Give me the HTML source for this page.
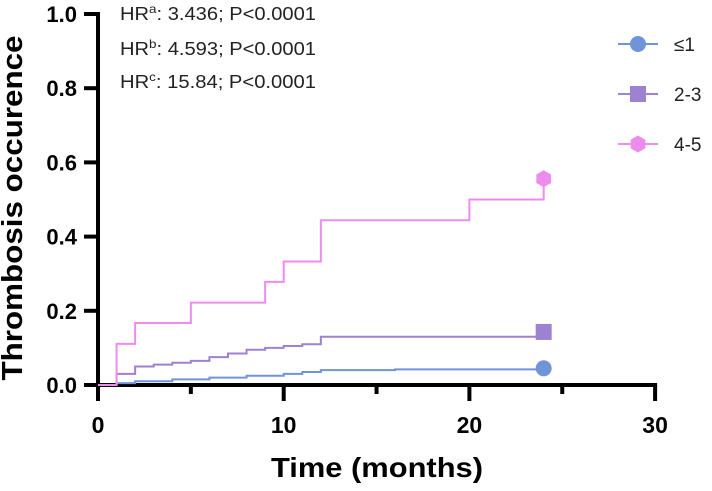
<!DOCTYPE html>
<html><head><meta charset="utf-8"><style>
body{margin:0;background:#fff;}
svg{display:block;font-family:"Liberation Sans",Arial,sans-serif;}
</style></head><body>
<svg id="chart" width="712" height="491">
<g id="axes"></g><g id="series"></g><g id="legend"></g>
<g font-size="18" fill="#222">
<text x="120" y="20" textLength="196" lengthAdjust="spacingAndGlyphs">HR<tspan dy="-7" font-size="12">a</tspan><tspan dy="7">: 3.436; P&lt;0.0001</tspan></text>
<text x="120" y="55" textLength="196" lengthAdjust="spacingAndGlyphs">HR<tspan dy="-7" font-size="12">b</tspan><tspan dy="7">: 4.593; P&lt;0.0001</tspan></text>
<text x="120" y="88" textLength="196" lengthAdjust="spacingAndGlyphs">HR<tspan dy="-7" font-size="12">c</tspan><tspan dy="7">: 15.84; P&lt;0.0001</tspan></text>
</g>
<text x="377" y="477" text-anchor="middle" font-size="28" font-weight="bold" textLength="212" lengthAdjust="spacingAndGlyphs">Time (months)</text>
<text transform="translate(22,208) rotate(-90)" text-anchor="middle" font-size="29" font-weight="bold" textLength="345" lengthAdjust="spacingAndGlyphs">Thrombosis occurence</text>
</svg>
<script>
const xTicks=[0,10,20,30];
const yTicks=[0,0.2,0.4,0.6,0.8,1.0];
const yTickLabels=["0.0","0.2","0.4","0.6","0.8","1.0"];
const seriesNames=["≤1","2-3","4-5"];
const timesLow=[0,1,2,4,6,8,10,11,12,16,24];
const valsLow=[0,0.005,0.01,0.015,0.02,0.025,0.03,0.035,0.04,0.042,0.042];
const timesMid=[0,1,2,3,4,5,6,7,8,9,10,11,12,24];
const valsMid=[0,0.03,0.05,0.055,0.06,0.065,0.075,0.085,0.095,0.1,0.105,0.11,0.13,0.13];
const timesHigh=[0,1,2,5,9,10,12,20,24];
const valsHigh=[0,0.111,0.167,0.222,0.278,0.333,0.444,0.5,0.556];
const markerVals=[0.045,0.143,0.556];
const markerTime=24;
const colors=["#6f95d8","#9d82d2","#ee8cee"];
const NS="http://www.w3.org/2000/svg";
const X=t=>98+t*18.57, Y=v=>385-v*371;
function mk(tag,attrs,parent){const e=document.createElementNS(NS,tag);for(const k in attrs)e.setAttribute(k,attrs[k]);parent.appendChild(e);return e;}
const ax=document.getElementById('axes');
let e=mk('line',{x1:98,y1:Y(1)-2,x2:98,y2:385,stroke:'#000','stroke-width':4},ax);


e=mk('line',{x1:96,y1:385,x2:X(30)+2,y2:385,stroke:'#000','stroke-width':4},ax);


yTicks.forEach((v,i)=>{
 e=mk('line',{x1:84,y1:Y(v),x2:98,y2:Y(v),stroke:'#000','stroke-width':4},ax);
 
 
 e=mk('text',{x:77,y:Y(v)+8,'text-anchor':'end','font-size':22,'font-weight':'bold'},ax);
 e.textContent=yTickLabels[i];
 
 
});
for(let t=0;t<=30;t+=5){
 e=mk('line',{x1:X(t),y1:385,x2:X(t),y2:t%10==0?401:394,stroke:'#000','stroke-width':4},ax);
 
 
}
xTicks.forEach(t=>{
 e=mk('text',{x:X(t),y:433,'text-anchor':'middle','font-size':23,'font-weight':'bold'},ax);
 e.textContent=t;
 
 
});
const sg=document.getElementById('series');
function step(ts,vs){let d='M'+X(ts[0])+','+Y(vs[0]);for(let i=1;i<ts.length;i++){d+=' H'+X(ts[i])+' V'+Y(vs[i]);}return d;}
[[timesLow,valsLow],[timesMid,valsMid],[timesHigh,valsHigh]].forEach((s,i)=>{
 e=mk('path',{d:step(s[0],s[1]),fill:'none',stroke:colors[i],'stroke-width':2},sg);
 
 
});
function marker(i,cx,cy,parent){
 let m;
 if(i==0)m=mk('circle',{cx:cx,cy:cy,r:8,fill:colors[0]},parent);
 else if(i==1)m=mk('rect',{x:cx-8,y:cy-8,width:16,height:16,fill:colors[1]},parent);
 else{let p=[];for(let k=0;k<6;k++){const a=Math.PI/3*k+Math.PI/6;p.push((cx+8.5*Math.cos(a))+','+(cy+8.5*Math.sin(a)));}m=mk('polygon',{points:p.join(' '),fill:colors[2]},parent);}
 return m;
}
markerVals.forEach((v,i)=>{
 e=marker(i,X(markerTime),Y(v),sg);
 
 
});
const lg=document.getElementById('legend');
seriesNames.forEach((n,i)=>{
 const y=44+i*50;
 e=mk('line',{x1:618,y1:y,x2:658,y2:y,stroke:colors[i],'stroke-width':2},lg);
 
 
 e=marker(i,638,y,lg);
 
 
 e=mk('text',{x:674,y:y+7,'font-size':19,fill:'#222'},lg);
 e.textContent=n;
 
 
});
</script>
</body></html>
